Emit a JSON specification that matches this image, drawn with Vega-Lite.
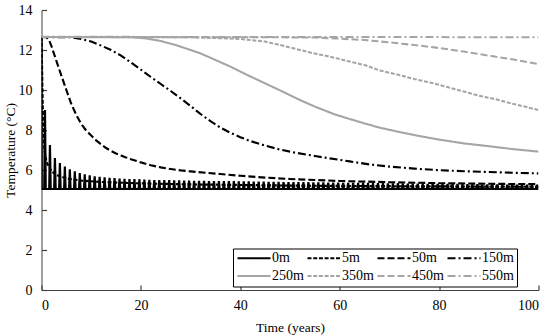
{
  "$schema": "https://vega.github.io/schema/vega-lite/v6.json",
  "width": 497,
  "height": 280,
  "autosize": "none",
  "padding": {"left": 41.5, "top": 10, "right": 11.5, "bottom": 46},
  "background": "white",
  "config": {
    "view": {"stroke": null},
    "font": "Liberation Serif",
    "axis": {
      "grid": false,
      "labelFontWeight": "normal",
      "titleFontWeight": "normal",
      "labelColor": "#000",
      "titleColor": "#000"
    },
    "legend": {"labelFontWeight": "normal"}
  },
  "data": {
    "values": [
      {"d":"0m","t":0,"v":12.65},{"d":"0m","t":0.05,"v":5.05},
      {"d":"0m","t":0.55,"v":5.05},{"d":"0m","t":0.7,"v":9.0},{"d":"0m","t":0.85,"v":5.05},
      {"d":"0m","t":1.55,"v":5.05},{"d":"0m","t":1.7,"v":7.25},{"d":"0m","t":1.85,"v":5.05},
      {"d":"0m","t":2.55,"v":5.05},{"d":"0m","t":2.7,"v":6.6},{"d":"0m","t":2.85,"v":5.05},
      {"d":"0m","t":3.55,"v":5.05},{"d":"0m","t":3.7,"v":6.35},{"d":"0m","t":3.85,"v":5.05},
      {"d":"0m","t":4.55,"v":5.05},{"d":"0m","t":4.7,"v":6.17},{"d":"0m","t":4.85,"v":5.05},
      {"d":"0m","t":5.55,"v":5.05},{"d":"0m","t":5.7,"v":6.03},{"d":"0m","t":5.85,"v":5.05},
      {"d":"0m","t":6.55,"v":5.05},{"d":"0m","t":6.7,"v":5.93},{"d":"0m","t":6.85,"v":5.05},
      {"d":"0m","t":7.55,"v":5.05},{"d":"0m","t":7.7,"v":5.85},{"d":"0m","t":7.85,"v":5.05},
      {"d":"0m","t":8.55,"v":5.05},{"d":"0m","t":8.7,"v":5.78},{"d":"0m","t":8.85,"v":5.05},
      {"d":"0m","t":9.55,"v":5.05},{"d":"0m","t":9.7,"v":5.73},{"d":"0m","t":9.85,"v":5.05},
      {"d":"0m","t":10.55,"v":5.05},{"d":"0m","t":10.7,"v":5.69},{"d":"0m","t":10.85,"v":5.05},
      {"d":"0m","t":11.55,"v":5.05},{"d":"0m","t":11.7,"v":5.66},{"d":"0m","t":11.85,"v":5.05},
      {"d":"0m","t":12.55,"v":5.05},{"d":"0m","t":12.7,"v":5.63},{"d":"0m","t":12.85,"v":5.05},
      {"d":"0m","t":13.55,"v":5.05},{"d":"0m","t":13.7,"v":5.61},{"d":"0m","t":13.85,"v":5.05},
      {"d":"0m","t":14.55,"v":5.05},{"d":"0m","t":14.7,"v":5.59},{"d":"0m","t":14.85,"v":5.05},
      {"d":"0m","t":15.55,"v":5.05},{"d":"0m","t":15.7,"v":5.57},{"d":"0m","t":15.85,"v":5.05},
      {"d":"0m","t":16.55,"v":5.05},{"d":"0m","t":16.7,"v":5.56},{"d":"0m","t":16.85,"v":5.05},
      {"d":"0m","t":17.55,"v":5.05},{"d":"0m","t":17.7,"v":5.55},{"d":"0m","t":17.85,"v":5.05},
      {"d":"0m","t":18.55,"v":5.05},{"d":"0m","t":18.7,"v":5.54},{"d":"0m","t":18.85,"v":5.05},
      {"d":"0m","t":19.55,"v":5.05},{"d":"0m","t":19.7,"v":5.53},{"d":"0m","t":19.85,"v":5.05},
      {"d":"0m","t":20.55,"v":5.05},{"d":"0m","t":20.7,"v":5.52},{"d":"0m","t":20.85,"v":5.05},
      {"d":"0m","t":21.55,"v":5.05},{"d":"0m","t":21.7,"v":5.51},{"d":"0m","t":21.85,"v":5.05},
      {"d":"0m","t":22.55,"v":5.05},{"d":"0m","t":22.7,"v":5.5},{"d":"0m","t":22.85,"v":5.05},
      {"d":"0m","t":23.55,"v":5.05},{"d":"0m","t":23.7,"v":5.5},{"d":"0m","t":23.85,"v":5.05},
      {"d":"0m","t":24.55,"v":5.05},{"d":"0m","t":24.7,"v":5.49},{"d":"0m","t":24.85,"v":5.05},
      {"d":"0m","t":25.55,"v":5.05},{"d":"0m","t":25.7,"v":5.49},{"d":"0m","t":25.85,"v":5.05},
      {"d":"0m","t":26.55,"v":5.05},{"d":"0m","t":26.7,"v":5.48},{"d":"0m","t":26.85,"v":5.05},
      {"d":"0m","t":27.55,"v":5.05},{"d":"0m","t":27.7,"v":5.48},{"d":"0m","t":27.85,"v":5.05},
      {"d":"0m","t":28.55,"v":5.05},{"d":"0m","t":28.7,"v":5.47},{"d":"0m","t":28.85,"v":5.05},
      {"d":"0m","t":29.55,"v":5.05},{"d":"0m","t":29.7,"v":5.47},{"d":"0m","t":29.85,"v":5.05},
      {"d":"0m","t":30.55,"v":5.05},{"d":"0m","t":30.7,"v":5.46},{"d":"0m","t":30.85,"v":5.05},
      {"d":"0m","t":31.55,"v":5.05},{"d":"0m","t":31.7,"v":5.46},{"d":"0m","t":31.85,"v":5.05},
      {"d":"0m","t":32.55,"v":5.05},{"d":"0m","t":32.7,"v":5.46},{"d":"0m","t":32.85,"v":5.05},
      {"d":"0m","t":33.55,"v":5.05},{"d":"0m","t":33.7,"v":5.45},{"d":"0m","t":33.85,"v":5.05},
      {"d":"0m","t":34.55,"v":5.05},{"d":"0m","t":34.7,"v":5.45},{"d":"0m","t":34.85,"v":5.05},
      {"d":"0m","t":35.55,"v":5.05},{"d":"0m","t":35.7,"v":5.45},{"d":"0m","t":35.85,"v":5.05},
      {"d":"0m","t":36.55,"v":5.05},{"d":"0m","t":36.7,"v":5.44},{"d":"0m","t":36.85,"v":5.05},
      {"d":"0m","t":37.55,"v":5.05},{"d":"0m","t":37.7,"v":5.44},{"d":"0m","t":37.85,"v":5.05},
      {"d":"0m","t":38.55,"v":5.05},{"d":"0m","t":38.7,"v":5.44},{"d":"0m","t":38.85,"v":5.05},
      {"d":"0m","t":39.55,"v":5.05},{"d":"0m","t":39.7,"v":5.43},{"d":"0m","t":39.85,"v":5.05},
      {"d":"0m","t":40.55,"v":5.05},{"d":"0m","t":40.7,"v":5.43},{"d":"0m","t":40.85,"v":5.05},
      {"d":"0m","t":41.55,"v":5.05},{"d":"0m","t":41.7,"v":5.43},{"d":"0m","t":41.85,"v":5.05},
      {"d":"0m","t":42.55,"v":5.05},{"d":"0m","t":42.7,"v":5.42},{"d":"0m","t":42.85,"v":5.05},
      {"d":"0m","t":43.55,"v":5.05},{"d":"0m","t":43.7,"v":5.42},{"d":"0m","t":43.85,"v":5.05},
      {"d":"0m","t":44.55,"v":5.05},{"d":"0m","t":44.7,"v":5.42},{"d":"0m","t":44.85,"v":5.05},
      {"d":"0m","t":45.55,"v":5.05},{"d":"0m","t":45.7,"v":5.41},{"d":"0m","t":45.85,"v":5.05},
      {"d":"0m","t":46.55,"v":5.05},{"d":"0m","t":46.7,"v":5.41},{"d":"0m","t":46.85,"v":5.05},
      {"d":"0m","t":47.55,"v":5.05},{"d":"0m","t":47.7,"v":5.41},{"d":"0m","t":47.85,"v":5.05},
      {"d":"0m","t":48.55,"v":5.05},{"d":"0m","t":48.7,"v":5.4},{"d":"0m","t":48.85,"v":5.05},
      {"d":"0m","t":49.55,"v":5.05},{"d":"0m","t":49.7,"v":5.4},{"d":"0m","t":49.85,"v":5.05},
      {"d":"0m","t":50.55,"v":5.05},{"d":"0m","t":50.7,"v":5.4},{"d":"0m","t":50.85,"v":5.05},
      {"d":"0m","t":51.55,"v":5.05},{"d":"0m","t":51.7,"v":5.39},{"d":"0m","t":51.85,"v":5.05},
      {"d":"0m","t":52.55,"v":5.05},{"d":"0m","t":52.7,"v":5.39},{"d":"0m","t":52.85,"v":5.05},
      {"d":"0m","t":53.55,"v":5.05},{"d":"0m","t":53.7,"v":5.39},{"d":"0m","t":53.85,"v":5.05},
      {"d":"0m","t":54.55,"v":5.05},{"d":"0m","t":54.7,"v":5.38},{"d":"0m","t":54.85,"v":5.05},
      {"d":"0m","t":55.55,"v":5.05},{"d":"0m","t":55.7,"v":5.38},{"d":"0m","t":55.85,"v":5.05},
      {"d":"0m","t":56.55,"v":5.05},{"d":"0m","t":56.7,"v":5.38},{"d":"0m","t":56.85,"v":5.05},
      {"d":"0m","t":57.55,"v":5.05},{"d":"0m","t":57.7,"v":5.37},{"d":"0m","t":57.85,"v":5.05},
      {"d":"0m","t":58.55,"v":5.05},{"d":"0m","t":58.7,"v":5.37},{"d":"0m","t":58.85,"v":5.05},
      {"d":"0m","t":59.55,"v":5.05},{"d":"0m","t":59.7,"v":5.37},{"d":"0m","t":59.85,"v":5.05},
      {"d":"0m","t":60.55,"v":5.05},{"d":"0m","t":60.7,"v":5.36},{"d":"0m","t":60.85,"v":5.05},
      {"d":"0m","t":61.55,"v":5.05},{"d":"0m","t":61.7,"v":5.36},{"d":"0m","t":61.85,"v":5.05},
      {"d":"0m","t":62.55,"v":5.05},{"d":"0m","t":62.7,"v":5.36},{"d":"0m","t":62.85,"v":5.05},
      {"d":"0m","t":63.55,"v":5.05},{"d":"0m","t":63.7,"v":5.35},{"d":"0m","t":63.85,"v":5.05},
      {"d":"0m","t":64.55,"v":5.05},{"d":"0m","t":64.7,"v":5.35},{"d":"0m","t":64.85,"v":5.05},
      {"d":"0m","t":65.55,"v":5.05},{"d":"0m","t":65.7,"v":5.35},{"d":"0m","t":65.85,"v":5.05},
      {"d":"0m","t":66.55,"v":5.05},{"d":"0m","t":66.7,"v":5.34},{"d":"0m","t":66.85,"v":5.05},
      {"d":"0m","t":67.55,"v":5.05},{"d":"0m","t":67.7,"v":5.34},{"d":"0m","t":67.85,"v":5.05},
      {"d":"0m","t":68.55,"v":5.05},{"d":"0m","t":68.7,"v":5.34},{"d":"0m","t":68.85,"v":5.05},
      {"d":"0m","t":69.55,"v":5.05},{"d":"0m","t":69.7,"v":5.33},{"d":"0m","t":69.85,"v":5.05},
      {"d":"0m","t":70.55,"v":5.05},{"d":"0m","t":70.7,"v":5.33},{"d":"0m","t":70.85,"v":5.05},
      {"d":"0m","t":71.55,"v":5.05},{"d":"0m","t":71.7,"v":5.33},{"d":"0m","t":71.85,"v":5.05},
      {"d":"0m","t":72.55,"v":5.05},{"d":"0m","t":72.7,"v":5.33},{"d":"0m","t":72.85,"v":5.05},
      {"d":"0m","t":73.55,"v":5.05},{"d":"0m","t":73.7,"v":5.32},{"d":"0m","t":73.85,"v":5.05},
      {"d":"0m","t":74.55,"v":5.05},{"d":"0m","t":74.7,"v":5.32},{"d":"0m","t":74.85,"v":5.05},
      {"d":"0m","t":75.55,"v":5.05},{"d":"0m","t":75.7,"v":5.32},{"d":"0m","t":75.85,"v":5.05},
      {"d":"0m","t":76.55,"v":5.05},{"d":"0m","t":76.7,"v":5.31},{"d":"0m","t":76.85,"v":5.05},
      {"d":"0m","t":77.55,"v":5.05},{"d":"0m","t":77.7,"v":5.31},{"d":"0m","t":77.85,"v":5.05},
      {"d":"0m","t":78.55,"v":5.05},{"d":"0m","t":78.7,"v":5.31},{"d":"0m","t":78.85,"v":5.05},
      {"d":"0m","t":79.55,"v":5.05},{"d":"0m","t":79.7,"v":5.31},{"d":"0m","t":79.85,"v":5.05},
      {"d":"0m","t":80.55,"v":5.05},{"d":"0m","t":80.7,"v":5.3},{"d":"0m","t":80.85,"v":5.05},
      {"d":"0m","t":81.55,"v":5.05},{"d":"0m","t":81.7,"v":5.3},{"d":"0m","t":81.85,"v":5.05},
      {"d":"0m","t":82.55,"v":5.05},{"d":"0m","t":82.7,"v":5.3},{"d":"0m","t":82.85,"v":5.05},
      {"d":"0m","t":83.55,"v":5.05},{"d":"0m","t":83.7,"v":5.3},{"d":"0m","t":83.85,"v":5.05},
      {"d":"0m","t":84.55,"v":5.05},{"d":"0m","t":84.7,"v":5.29},{"d":"0m","t":84.85,"v":5.05},
      {"d":"0m","t":85.55,"v":5.05},{"d":"0m","t":85.7,"v":5.29},{"d":"0m","t":85.85,"v":5.05},
      {"d":"0m","t":86.55,"v":5.05},{"d":"0m","t":86.7,"v":5.29},{"d":"0m","t":86.85,"v":5.05},
      {"d":"0m","t":87.55,"v":5.05},{"d":"0m","t":87.7,"v":5.29},{"d":"0m","t":87.85,"v":5.05},
      {"d":"0m","t":88.55,"v":5.05},{"d":"0m","t":88.7,"v":5.28},{"d":"0m","t":88.85,"v":5.05},
      {"d":"0m","t":89.55,"v":5.05},{"d":"0m","t":89.7,"v":5.28},{"d":"0m","t":89.85,"v":5.05},
      {"d":"0m","t":90.55,"v":5.05},{"d":"0m","t":90.7,"v":5.28},{"d":"0m","t":90.85,"v":5.05},
      {"d":"0m","t":91.55,"v":5.05},{"d":"0m","t":91.7,"v":5.28},{"d":"0m","t":91.85,"v":5.05},
      {"d":"0m","t":92.55,"v":5.05},{"d":"0m","t":92.7,"v":5.27},{"d":"0m","t":92.85,"v":5.05},
      {"d":"0m","t":93.55,"v":5.05},{"d":"0m","t":93.7,"v":5.27},{"d":"0m","t":93.85,"v":5.05},
      {"d":"0m","t":94.55,"v":5.05},{"d":"0m","t":94.7,"v":5.27},{"d":"0m","t":94.85,"v":5.05},
      {"d":"0m","t":95.55,"v":5.05},{"d":"0m","t":95.7,"v":5.27},{"d":"0m","t":95.85,"v":5.05},
      {"d":"0m","t":96.55,"v":5.05},{"d":"0m","t":96.7,"v":5.26},{"d":"0m","t":96.85,"v":5.05},
      {"d":"0m","t":97.55,"v":5.05},{"d":"0m","t":97.7,"v":5.26},{"d":"0m","t":97.85,"v":5.05},
      {"d":"0m","t":98.55,"v":5.05},{"d":"0m","t":98.7,"v":5.26},{"d":"0m","t":98.85,"v":5.05},
      {"d":"0m","t":99.55,"v":5.05},{"d":"0m","t":99.7,"v":5.26},{"d":"0m","t":99.85,"v":5.05},
      {"d":"0m","t":100,"v":5.05},
      {"d":"5m","t":0,"v":12.65},{"d":"5m","t":0.3,"v":8.5},{"d":"5m","t":0.6,"v":7.0},{"d":"5m","t":1,"v":6.4},
      {"d":"5m","t":2,"v":5.95},{"d":"5m","t":3,"v":5.75},{"d":"5m","t":5,"v":5.58},{"d":"5m","t":8,"v":5.47},
      {"d":"5m","t":12,"v":5.4},{"d":"5m","t":20,"v":5.33},{"d":"5m","t":30,"v":5.28},{"d":"5m","t":50,"v":5.22},
      {"d":"5m","t":70,"v":5.19},{"d":"5m","t":100,"v":5.16},
      {"d":"50m","t":0,"v":12.65},{"d":"50m","t":1,"v":12.64},{"d":"50m","t":1.5,"v":12.5},{"d":"50m","t":2,"v":12.2},
      {"d":"50m","t":3,"v":11.45},{"d":"50m","t":4,"v":10.72},{"d":"50m","t":5,"v":10.0},{"d":"50m","t":6,"v":9.3},
      {"d":"50m","t":7,"v":8.75},{"d":"50m","t":8,"v":8.3},{"d":"50m","t":9,"v":7.97},{"d":"50m","t":10,"v":7.72},
      {"d":"50m","t":11,"v":7.48},{"d":"50m","t":12,"v":7.28},{"d":"50m","t":13,"v":7.1},{"d":"50m","t":14,"v":6.95},
      {"d":"50m","t":15,"v":6.83},{"d":"50m","t":16,"v":6.73},{"d":"50m","t":17,"v":6.63},{"d":"50m","t":18,"v":6.54},
      {"d":"50m","t":20,"v":6.38},{"d":"50m","t":22,"v":6.24},{"d":"50m","t":24,"v":6.13},{"d":"50m","t":26,"v":6.05},
      {"d":"50m","t":28,"v":5.98},{"d":"50m","t":30,"v":5.93},{"d":"50m","t":33,"v":5.86},{"d":"50m","t":36,"v":5.8},
      {"d":"50m","t":40,"v":5.71},{"d":"50m","t":45,"v":5.62},{"d":"50m","t":50,"v":5.55},{"d":"50m","t":55,"v":5.5},
      {"d":"50m","t":60,"v":5.45},{"d":"50m","t":70,"v":5.39},{"d":"50m","t":80,"v":5.34},{"d":"50m","t":90,"v":5.31},
      {"d":"50m","t":100,"v":5.29},
      {"d":"150m","t":0,"v":12.65},{"d":"150m","t":6,"v":12.64},{"d":"150m","t":8,"v":12.55},{"d":"150m","t":10,"v":12.42},
      {"d":"150m","t":12,"v":12.22},{"d":"150m","t":14,"v":12.0},{"d":"150m","t":16,"v":11.72},{"d":"150m","t":18,"v":11.38},
      {"d":"150m","t":20,"v":11.02},{"d":"150m","t":22,"v":10.65},{"d":"150m","t":24,"v":10.3},{"d":"150m","t":26,"v":9.95},
      {"d":"150m","t":28,"v":9.58},{"d":"150m","t":30,"v":9.2},{"d":"150m","t":32,"v":8.8},{"d":"150m","t":34,"v":8.44},
      {"d":"150m","t":36,"v":8.12},{"d":"150m","t":38,"v":7.86},{"d":"150m","t":40,"v":7.64},{"d":"150m","t":42,"v":7.45},
      {"d":"150m","t":45,"v":7.22},{"d":"150m","t":48,"v":7.02},{"d":"150m","t":51,"v":6.87},{"d":"150m","t":55,"v":6.7},
      {"d":"150m","t":58,"v":6.58},{"d":"150m","t":62,"v":6.43},{"d":"150m","t":66,"v":6.28},{"d":"150m","t":70,"v":6.17},
      {"d":"150m","t":75,"v":6.07},{"d":"150m","t":80,"v":5.99},{"d":"150m","t":85,"v":5.94},{"d":"150m","t":90,"v":5.9},
      {"d":"150m","t":95,"v":5.86},{"d":"150m","t":100,"v":5.83},
      {"d":"250m","t":0,"v":12.65},{"d":"250m","t":18,"v":12.64},{"d":"250m","t":21,"v":12.58},{"d":"250m","t":24,"v":12.45},
      {"d":"250m","t":27,"v":12.25},{"d":"250m","t":30,"v":12.0},{"d":"250m","t":32,"v":11.83},{"d":"250m","t":35,"v":11.5},
      {"d":"250m","t":38,"v":11.17},{"d":"250m","t":41,"v":10.8},{"d":"250m","t":45,"v":10.33},{"d":"250m","t":48,"v":9.98},
      {"d":"250m","t":52,"v":9.5},{"d":"250m","t":55,"v":9.17},{"d":"250m","t":59,"v":8.78},{"d":"250m","t":62,"v":8.55},
      {"d":"250m","t":65,"v":8.33},{"d":"250m","t":68,"v":8.12},{"d":"250m","t":72,"v":7.9},{"d":"250m","t":76,"v":7.7},
      {"d":"250m","t":80,"v":7.52},{"d":"250m","t":85,"v":7.33},{"d":"250m","t":90,"v":7.19},{"d":"250m","t":95,"v":7.04},
      {"d":"250m","t":100,"v":6.92},
      {"d":"350m","t":0,"v":12.65},{"d":"350m","t":30,"v":12.64},{"d":"350m","t":35,"v":12.6},{"d":"350m","t":40,"v":12.55},
      {"d":"350m","t":45,"v":12.42},{"d":"350m","t":48,"v":12.25},{"d":"350m","t":52,"v":12.0},{"d":"350m","t":55,"v":11.82},
      {"d":"350m","t":58,"v":11.67},{"d":"350m","t":62,"v":11.42},{"d":"350m","t":65,"v":11.25},{"d":"350m","t":68,"v":10.98},
      {"d":"350m","t":72,"v":10.75},{"d":"350m","t":75,"v":10.55},{"d":"350m","t":79,"v":10.33},{"d":"350m","t":82,"v":10.12},
      {"d":"350m","t":85,"v":9.92},{"d":"350m","t":88,"v":9.72},{"d":"350m","t":92,"v":9.5},{"d":"350m","t":95,"v":9.3},
      {"d":"350m","t":100,"v":9.0},
      {"d":"450m","t":0,"v":12.65},{"d":"450m","t":45,"v":12.64},{"d":"450m","t":55,"v":12.62},{"d":"450m","t":59,"v":12.58},
      {"d":"450m","t":65,"v":12.5},{"d":"450m","t":70,"v":12.38},{"d":"450m","t":75,"v":12.25},{"d":"450m","t":80,"v":12.1},
      {"d":"450m","t":85,"v":11.92},{"d":"450m","t":90,"v":11.72},{"d":"450m","t":95,"v":11.52},{"d":"450m","t":100,"v":11.3},
      {"d":"550m","t":0,"v":12.66},{"d":"550m","t":100,"v":12.64}
    ]
  },
  "mark": {"type": "line", "clip": true},
  "encoding": {
    "x": {
      "field": "t", "type": "quantitative",
      "scale": {"domain": [0, 100], "nice": false},
      "axis": {
        "values": [0, 20, 40, 60, 80, 100], "labelPadding": 13,
        "labelFont": "Liberation Serif", "labelFontSize": 14, "labelFontWeight": "normal",
        "title": "Time (years)", "titleY": 41, "titleBaseline": "alphabetic",
        "titleFont": "Liberation Serif", "titleFontSize": 13.5, "titleFontWeight": "normal",
        "tickSize": -5, "tickWidth": 1.2, "domainColor": "#404040", "tickColor": "#404040"
      }
    },
    "y": {
      "field": "v", "type": "quantitative",
      "scale": {"domain": [0, 14], "nice": false},
      "axis": {
        "values": [0, 2, 4, 6, 8, 10, 12, 14], "labelPadding": 14.5,
        "labelFont": "Liberation Serif", "labelFontSize": 14, "labelFontWeight": "normal",
        "title": "Temperature (°C)", "titleX": -27, "titleBaseline": "alphabetic",
        "titleFont": "Liberation Serif", "titleFontSize": 13.5, "titleFontWeight": "normal",
        "tickSize": -5, "tickWidth": 1.2, "domainColor": "#404040", "tickColor": "#404040"
      }
    },
    "color": {
      "field": "d", "type": "nominal",
      "scale": {
        "domain": ["0m", "5m", "50m", "150m", "250m", "350m", "450m", "550m"],
        "range": ["#000000", "#000000", "#000000", "#000000", "#a5a5a5", "#a5a5a5", "#a5a5a5", "#a5a5a5"]
      },
      "legend": {
        "title": null,
        "orient": "none",
        "legendX": 191.5,
        "legendY": 238.5,
        "columns": 4,
        "direction": "horizontal",
        "strokeColor": "#000",
        "fillColor": "#fff",
        "padding": 3,
        "rowPadding": 3,
        "columnPadding": 2,
        "clipHeight": 13,
        "symbolType": "stroke",
        "symbolSize": 1089,
        "symbolOffset": 0,
        "labelOffset": 0,
        "labelFont": "Liberation Serif",
        "labelFontSize": 14,
        "labelFontWeight": "normal",
        "labelColor": "#000"
      }
    },
    "strokeDash": {
      "field": "d", "type": "nominal",
      "scale": {
        "domain": ["0m", "5m", "50m", "150m", "250m", "350m", "450m", "550m"],
        "range": [[1, 0], [4, 1.7], [7, 3], [8, 3, 2, 3], [1, 0], [4, 1.7], [7, 3], [8, 3, 2, 3]]
      }
    },
    "strokeWidth": {
      "field": "d", "type": "nominal",
      "scale": {
        "domain": ["0m", "5m", "50m", "150m", "250m", "350m", "450m", "550m"],
        "range": [2.2, 2, 2, 2, 1.8, 1.8, 1.8, 1.8]
      }
    }
  }
}
